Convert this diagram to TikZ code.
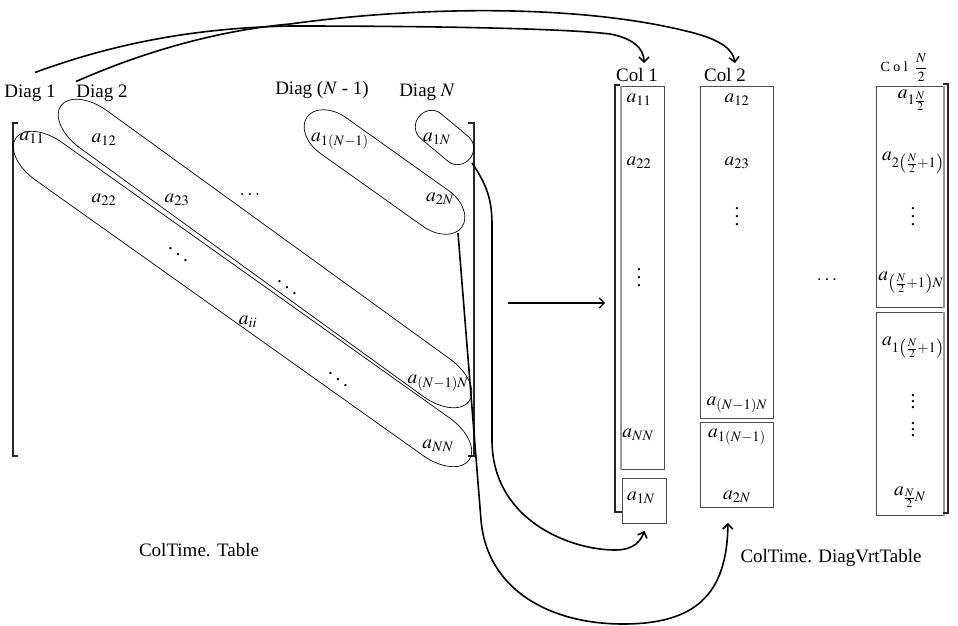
\documentclass[tikz,border=0pt]{standalone}
\usepackage{mathptmx}
\usepackage{fontspec}
\setmainfont{Liberation Serif}
\usetikzlibrary{arrows.meta}
\newcommand\capsl[7]{% name cx cy angle h e r
 \draw[capsule, shift={(#2,#3)}, rotate=#4] (-#5,-#7) -- (#5,-#7)
   .. controls ({#5+0.5523*#6},-#7) and ({#5+#6},{-0.5523*#7}) .. ({#5+#6},0)
   .. controls ({#5+#6},{0.5523*#7}) and ({#5+0.5523*#6},#7) .. (#5,#7)
   -- (-#5,#7)
   .. controls ({-#5-0.5523*#6},#7) and ({-#5-#6},{0.5523*#7}) .. ({-#5-#6},0)
   .. controls ({-#5-#6},{-0.5523*#7}) and ({-#5-0.5523*#6},-#7) .. (-#5,-#7) -- cycle;
 \coordinate (#1) at (#2,#3);}
\newcommand\myvd[1]{\vbox{\baselineskip#1\lineskiplimit0pt\hbox{.}\hbox{.}\hbox{.}}}
\newcommand\myddots{\mbox{\raisebox{12pt}{.}\kern2.6pt\raisebox{6pt}{.}\kern2.6pt.}}
\begin{document}
\begin{tikzpicture}[x=1pt,y=-1pt,
  txt/.style={font=\fontsize{19}{22}\selectfont, inner sep=0pt},
  ent/.style={font=\fontsize{19.5}{22}\selectfont, inner sep=0pt},
  capsule/.style={draw, line width=0.7pt},
  cell/.style={draw=black!70, line width=0.9pt, inner sep=0pt, anchor=north west},
  shade/.style={draw=black!40, line width=1.8pt},
  brk/.style={draw=black!85, line width=1.2pt},
  conn/.style={line width=1.6pt, -{Straight Barb[length=5pt,width=10pt]}},
  thinarrow/.style={line width=1.1pt, -{Straight Barb[length=5pt,width=10pt]}}]
\useasboundingbox (0,0) rectangle (958,626);

% ---------- left matrix ----------
\draw[brk] (18,123) -- (13,123) -- (13,456) -- (18,456);
\draw[brk] (468,123) -- (474,123) -- (474,456) -- (468,456);

\capsl{dg1cap}{242.5}{299}{-35.4}{238}{40}{23}
\capsl{dg2cap}{265}{253.5}{-35.9}{212}{40}{23}
\capsl{dgn1cap}{384.5}{172}{-35.4}{63}{32}{22}
\capsl{dgncap}{444.5}{137.5}{-40}{18}{15}{16}

\node[txt] (dg1lbl) at (30,93) {Diag 1};
\node[txt] (dg2lbl) at (102,93) {Diag 2};
\node[txt] (dgn1lbl) at (322,90) {Diag ($N$ - 1)};
\node[txt] (dgnlbl) at (427,92) {Diag $N$};

\node[ent] (m11) at (32,138) {$a_{11}$};
\node[ent] (m12) at (104,140) {$a_{12}$};
\node[ent] (m1n1) at (340,141) {$a_{1(N-1)}$};
\node[ent] (m1n) at (437,139) {$a_{1N}$};
\node[ent] (m22) at (104,200) {$a_{22}$};
\node[ent] (m23) at (177,200) {$a_{23}$};
\node[ent] (mhd) at (250,195) {$\cdots$};
\node[ent] (m2n) at (440,199) {$a_{2N}$};
\node[ent] (mdd1) at (178,255) {\myddots};
\node[ent] (mdd2) at (287,288) {\myddots};
\node[ent] (mii) at (248,322) {$a_{ii}$};
\node[ent] (mdd3) at (338,380) {\myddots};
\node[ent] (mn1n) at (438,383) {$a_{(N-1)N}$};
\node[ent] (mnn) at (438,446) {$a_{NN}$};

\node[txt] (tbl) at (199,550) {ColTime. Table};

% ---------- right columns ----------
\node[cell, minimum width=43pt, minimum height=383pt] (c1a) at (621,86) {};
\node[cell, minimum width=44pt, minimum height=45pt] (c1b) at (622,478) {};
\node[cell, minimum width=73pt, minimum height=332pt] (c2a) at (700,86) {};
\node[cell, minimum width=73pt, minimum height=85pt] (c2b) at (700,422) {};
\node[cell, minimum width=67pt, minimum height=221pt] (cna) at (876,86) {};
\node[cell, minimum width=67pt, minimum height=203pt] (cnb) at (876,312) {};

\draw[shade] (c1a.north west) -- (c1a.south west);
\draw[shade] (cna.north east) -- (cna.south east);
\draw[shade] (cnb.north east) -- (cnb.south east);
\draw[brk] (620,85) -- (615,85) -- (615,512) -- (622,512);
\draw[brk] (943,84) -- (948,84) -- (948,513) -- (943,513);

\node[txt] (col1lbl) at (637,75) {Col 1};
\node[txt] (col2lbl) at (725,75) {Col 2};
\node[inner sep=0pt, font=\fontsize{14}{16}\selectfont] (colnlbl) at (904,67) {C o l\ \ $\displaystyle\frac{N}{2}$};

\node[ent] (k11) at (639,100) {$a_{11}$};
\node[ent] (k22) at (639,163) {$a_{22}$};
\node[ent] (kvd) at (639,278) {\myvd{8pt}};
\node[ent] (knn) at (638,435) {$a_{NN}$};
\node[ent] (k1n) at (641,498) {$a_{1N}$};

\node[ent] (l12) at (737,100) {$a_{12}$};
\node[ent] (l23) at (737,163) {$a_{23}$};
\node[ent] (lvd) at (737,217) {\myvd{8pt}};
\node[ent] (ln1n) at (737,405) {$a_{(N-1)N}$};
\node[ent] (l1n1) at (737,437) {$a_{1(N-1)}$};
\node[ent] (l2n) at (737,497) {$a_{2N}$};

\node[ent] (mid) at (827,280) {$\cdots$};

\node[ent] (p1) at (912,100) {$a_{1\frac{N}{2}}$};
\node[ent] (p2) at (913,163) {$a_{2\left(\frac{N}{2}+1\right)}$};
\node[ent] (pvd) at (913,217) {\myvd{8pt}};
\node[ent] (p3) at (911,283) {$a_{\left(\frac{N}{2}+1\right)N}$};
\node[ent] (p4) at (913,348) {$a_{1\left(\frac{N}{2}+1\right)}$};
\node[ent] (pvd2) at (913,402) {\myvd{6pt}};
\node[ent] (pvd3) at (913,430) {\myvd{6pt}};
\node[ent] (p5) at (910,497) {$a_{\frac{N}{2}N}$};

\node[txt] (dvt) at (831,558) {ColTime. DiagVrtTable};

% ---------- connectors ----------
\coordinate (s1) at ([xshift=5pt,yshift=12pt]dg1lbl.north);
\coordinate (s2) at ([yshift=3pt]dg2lbl.north west);
\coordinate (e1) at ([xshift=7pt,yshift=5pt]col1lbl.north);
\coordinate (e2) at ([xshift=10pt,yshift=5pt]col2lbl.north);
\draw[conn] (s1) .. controls (110,45) and (190,28) .. (290,26)
  .. controls (420,26) and (560,28) .. (610,34)
  .. controls (632,38) and (644,48) .. (e1);
\draw[conn] (s2) .. controls (120,62) and (200,32) .. (290,24)
  .. controls (420,6) and (580,4) .. (690,32)
  .. controls (722,40) and (733,50) .. (e2);

\coordinate (s3) at (472,163);
\coordinate (s4) at (458,233);
\coordinate (e3) at ([yshift=-7pt]c1b.south);
\coordinate (e4) at ([xshift=-9pt,yshift=-15pt]c2b.south);
\draw[conn] (s3) .. controls (487,185) and (492,200) .. (492,225)
  -- (492,440) .. controls (492,520) and (570,550) .. (615,550)
  .. controls (635,550) and (641,540) .. (e3);
\draw[conn] (s4) -- (481,520) .. controls (487,590) and (550,624) .. (623,624)
  .. controls (695,624) and (727,595) .. (e4);

\coordinate (h1) at (508,303);
\coordinate (h2) at (605,303);
\draw[thinarrow] (h1) -- (h2);
\end{tikzpicture}
\end{document}
